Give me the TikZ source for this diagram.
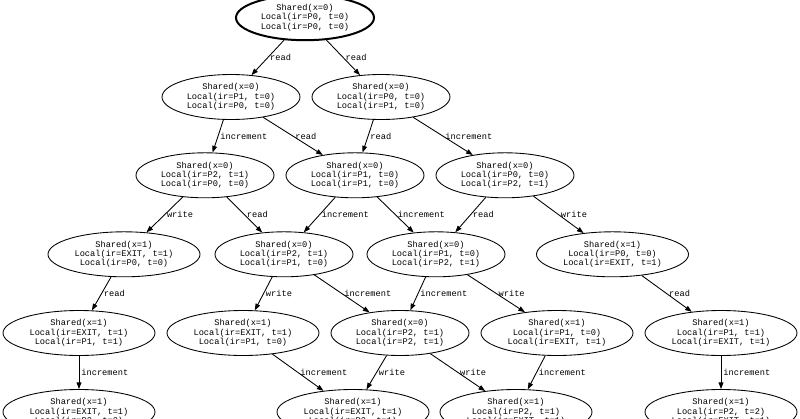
\documentclass[tikz,border=0pt]{standalone}
\usepackage{fontspec}
\setmonofont{Liberation Mono}
\usetikzlibrary{shapes.geometric,arrows.meta}
\begin{document}
\begin{tikzpicture}[x=0.75pt,y=-0.75pt,
  txt/.style={font=\ttfamily\fontsize{6.5}{7}\selectfont},
  st/.style={draw, ellipse, txt, minimum width=103.5pt, minimum height=33.75pt, inner sep=0pt, align=center, line width=0.65pt},
  stw/.style={st, minimum width=114pt},
  ed/.style={draw, -{Triangle[length=5pt,width=3.6pt]}, line width=0.65pt},
  lb/.style={txt, anchor=west, inner sep=1.5pt}]
\fill[white] (0,0) rectangle (800,418);
\useasboundingbox (0,0) rectangle (800,418);
\clip (0,0) rectangle (800,418);
\begin{scope}[yshift=-0.75pt]
% row 0
\node[st, line width=1.5pt] (r) at (305,16.7) {Shared(x=0)\\Local(ir=P0, t=0)\\Local(ir=P0, t=0)};
% row 1
\node[st] (a1) at (231,96) {Shared(x=0)\\Local(ir=P1, t=0)\\Local(ir=P0, t=0)};
\node[st] (b1) at (381,96) {Shared(x=0)\\Local(ir=P0, t=0)\\Local(ir=P1, t=0)};
% row 2
\node[st] (a2) at (205,174.3) {Shared(x=0)\\Local(ir=P2, t=1)\\Local(ir=P0, t=0)};
\node[st] (b2) at (355,174.3) {Shared(x=0)\\Local(ir=P1, t=0)\\Local(ir=P1, t=0)};
\node[st] (c2) at (505,174.3) {Shared(x=0)\\Local(ir=P0, t=0)\\Local(ir=P2, t=1)};
% row 3
\node[stw] (a3) at (124,253.3) {Shared(x=1)\\Local(ir=EXIT, t=1)\\Local(ir=P0, t=0)};
\node[st] (b3) at (284,253.3) {Shared(x=0)\\Local(ir=P2, t=1)\\Local(ir=P1, t=0)};
\node[st] (c3) at (436,253.3) {Shared(x=0)\\Local(ir=P1, t=0)\\Local(ir=P2, t=1)};
\node[stw] (d3) at (612.5,253.3) {Shared(x=1)\\Local(ir=P0, t=0)\\Local(ir=EXIT, t=1)};
% row 4
\node[stw] (a4) at (79,332) {Shared(x=1)\\Local(ir=EXIT, t=1)\\Local(ir=P1, t=1)};
\node[stw] (b4) at (243,332) {Shared(x=1)\\Local(ir=EXIT, t=1)\\Local(ir=P1, t=0)};
\node[st] (c4) at (400,332) {Shared(x=0)\\Local(ir=P2, t=1)\\Local(ir=P2, t=1)};
\node[stw] (d4) at (557,332) {Shared(x=1)\\Local(ir=P1, t=0)\\Local(ir=EXIT, t=1)};
\node[stw] (e4) at (721,332) {Shared(x=1)\\Local(ir=P1, t=1)\\Local(ir=EXIT, t=1)};
% row 5
\node[stw] (a5) at (79,411) {Shared(x=1)\\Local(ir=EXIT, t=1)\\Local(ir=P2, t=2)};
\node[stw] (b5) at (353,411) {Shared(x=1)\\Local(ir=EXIT, t=1)\\Local(ir=P2, t=1)};
\node[stw] (c5) at (516,411) {Shared(x=1)\\Local(ir=P2, t=1)\\Local(ir=EXIT, t=1)};
\node[stw] (d5) at (721,411) {Shared(x=1)\\Local(ir=P2, t=2)\\Local(ir=EXIT, t=1)};
% edges
\draw[ed] (r) -- (a1) node[lb, midway] {read};
\draw[ed] (r) -- (b1) node[lb, midway] {read};
\draw[ed] (a1) -- (a2) node[lb, midway] {increment};
\draw[ed] (a1) -- (b2) node[lb, midway] {read};
\draw[ed] (b1) -- (b2) node[lb, midway] {read};
\draw[ed] (b1) -- (c2) node[lb, midway] {increment};
\draw[ed] (a2) -- (a3) node[lb, midway] {write};
\draw[ed] (a2) -- (b3) node[lb, midway] {read};
\draw[ed] (b2) -- (b3) node[lb, midway] {increment};
\draw[ed] (b2) -- (c3) node[lb, midway] {increment};
\draw[ed] (c2) -- (c3) node[lb, midway] {read};
\draw[ed] (c2) -- (d3) node[lb, midway] {write};
\draw[ed] (a3) -- (a4) node[lb, midway] {read};
\draw[ed] (b3) -- (b4) node[lb, midway] {write};
\draw[ed] (b3) -- (c4) node[lb, midway] {increment};
\draw[ed] (c3) -- (c4) node[lb, midway] {increment};
\draw[ed] (c3) -- (d4) node[lb, midway] {write};
\draw[ed] (d3) -- (e4) node[lb, midway] {read};
\draw[ed] (a4) -- (a5) node[lb, midway] {increment};
\draw[ed] (b4) -- (b5) node[lb, midway] {increment};
\draw[ed] (c4) -- (b5) node[lb, midway] {write};
\draw[ed] (c4) -- (c5) node[lb, midway] {write};
\draw[ed] (d4) -- (c5) node[lb, midway] {increment};
\draw[ed] (e4) -- (d5) node[lb, midway] {increment};
\end{scope}
\end{tikzpicture}
\end{document}
